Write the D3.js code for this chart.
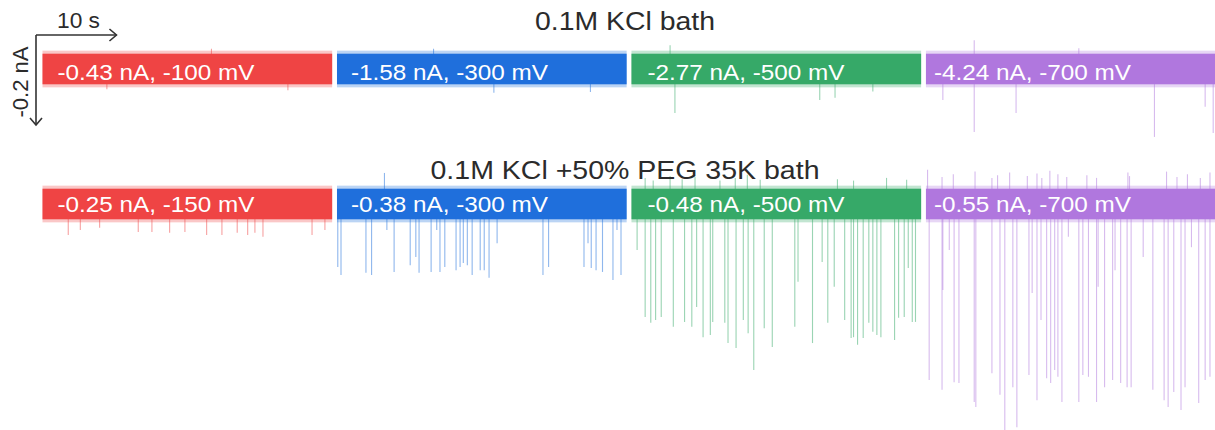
<!DOCTYPE html>
<html>
<head>
<meta charset="utf-8">
<script src="https://cdn.jsdelivr.net/npm/d3@7"></script>
<style>
  html, body { margin: 0; padding: 0; background: #fff; }
  svg { display: block; font-family: "Liberation Sans", Arial, sans-serif; }
</style>
</head>
<body>
<svg id="chart" width="1215" height="430"></svg>
<script>
// ---- data (time in s inside each trace, current change in nA) ----
var segTime = 36;      // length of each trace
var segGap = 0.6;      // gap between traces

var rowTitles = ['0.1M KCl bath', '0.1M KCl +50% PEG 35K bath'];

var topLabels = ['-0.43 nA, -100 mV', '-1.58 nA, -300 mV', '-2.77 nA, -500 mV', '-4.24 nA, -700 mV'];
var bottomLabels = ['-0.25 nA, -150 mV', '-0.38 nA, -300 mV', '-0.48 nA, -500 mV', '-0.55 nA, -700 mV'];

var traceColors = ['#ef4444', '#1f6fdc', '#36a968', '#b077de'];

// noise half width of each trace
var topNoise = [0.034, 0.034, 0.034, 0.034];
var bottomNoise = [0.034, 0.034, 0.034, 0.034];

// events [t, dI]
var topEvents = [
  [[8.0, -0.045], [21.0, 0.045], [30.5, -0.047]],
  [[19.5, -0.053], [31.5, -0.051], [12.0, 0.045]],
  [[5.4, -0.098], [4.8, 0.053], [23.4, -0.069], [25.3, -0.064], [30.0, -0.05]],
  [[2.1, -0.069], [6.0, -0.14], [6.0, 0.064], [11.2, -0.098], [28.4, -0.151],
   [34.7, -0.084], [35.7, -0.142], [19.0, 0.046]]
];

var bottomEvents = [
  [[3.2, -0.069], [4.7, -0.058], [7.1, -0.053], [11.9, -0.062], [13.6, -0.062],
   [15.8, -0.064], [17.7, -0.062], [20.4, -0.069], [22.3, -0.069], [24.2, -0.064],
   [25.5, -0.069], [26.4, -0.064], [27.4, -0.073], [33.5, -0.069], [35.1, -0.058]],
  [[0.1, -0.14], [0.5, -0.158], [3.6, -0.153], [4.3, -0.158], [6.2, -0.058],
   [7.1, -0.151], [9.1, -0.136], [9.8, -0.118], [10.2, -0.153], [11.7, -0.151],
   [12.4, -0.058], [12.8, -0.151], [13.4, -0.14], [14.8, -0.147], [15.3, -0.14],
   [15.7, -0.131], [16.2, -0.136], [16.8, -0.158], [17.8, -0.147], [18.3, -0.147],
   [18.9, -0.164], [19.9, -0.087], [25.6, -0.158], [26.3, -0.14], [30.7, -0.14],
   [31.2, -0.087], [31.6, -0.142], [32.2, -0.147], [33.0, -0.151], [34.3, -0.169],
   [34.8, -0.058], [35.3, -0.158], [5.9, 0.069]],
  [[0.7, -0.102], [1.7, -0.251], [2.4, -0.264], [3.0, -0.258], [3.7, -0.251],
   [5.2, -0.273], [6.6, -0.262], [7.5, -0.273], [8.1, -0.229], [8.9, -0.296],
   [9.8, -0.291], [10.1, -0.262], [11.6, -0.264], [12.0, -0.309], [13.0, -0.32],
   [13.9, -0.258], [14.5, -0.287], [15.2, -0.369], [16.5, -0.276], [17.5, -0.318],
   [20.3, -0.273], [20.7, -0.173], [22.5, -0.309], [23.7, -0.129], [24.4, -0.264],
   [25.2, -0.184], [26.5, -0.258], [27.3, -0.298], [27.6, -0.296], [28.1, -0.313],
   [28.8, -0.298], [29.5, -0.264], [30.0, -0.284], [30.5, -0.291], [31.0, -0.296],
   [32.7, -0.302], [33.2, -0.253], [33.9, -0.251], [34.4, -0.142], [34.9, -0.262],
   [35.3, -0.262],
   [1.7, 0.058], [2.7, 0.052], [4.8, 0.062], [6.3, 0.055], [7.9, 0.06], [11.0, 0.052],
   [12.9, 0.058], [14.4, 0.065], [16.0, 0.054], [25.6, 0.055], [27.6, 0.052],
   [31.7, 0.058], [34.2, 0.054]],
  [[0.4, -0.391], [2.0, -0.413], [2.1, -0.191], [2.9, -0.102], [3.5, -0.396],
   [4.1, -0.398], [6.0, -0.44], [6.2, -0.451], [8.2, -0.376], [9.2, -0.424],
   [9.8, -0.502], [10.8, -0.407], [11.3, -0.496], [12.8, -0.38], [13.2, -0.198],
   [13.8, -0.436], [14.3, -0.258], [15.0, -0.387], [15.5, -0.398], [16.0, -0.369],
   [16.4, -0.384], [16.9, -0.44], [17.7, -0.073], [19.0, -0.44], [19.5, -0.38],
   [20.2, -0.384], [21.2, -0.44], [21.4, -0.184], [22.2, -0.407], [23.2, -0.391],
   [23.5, -0.147], [24.2, -0.398], [25.0, -0.407], [25.5, -0.407], [27.0, -0.118],
   [28.2, -0.413], [29.6, -0.436], [30.1, -0.451], [30.8, -0.418], [31.7, -0.458],
   [32.2, -0.407], [33.0, -0.096], [33.9, -0.442], [34.7, -0.391], [35.3, -0.384],
   [0.2, 0.076], [2.0, 0.06], [3.4, 0.066], [6.1, 0.072], [8.2, 0.058], [8.9, 0.064],
   [10.4, 0.07], [12.6, 0.062], [13.8, 0.068], [14.4, 0.058], [15.4, 0.074],
   [16.4, 0.066], [17.5, 0.06], [20.0, 0.064], [21.2, 0.058], [25.1, 0.07],
   [25.3, 0.062], [29.9, 0.072], [31.2, 0.06], [32.5, 0.066], [34.1, 0.058], [35.3, 0.07]]
];

// scale bar
var scaleBarTime = 10;      // s
var scaleBarCurrent = 0.2;  // nA

// ---- layout ----
var svg = d3.select('#chart');
var pxPerSec = 8.046;
var nSeg = topLabels.length;
var totalTime = nSeg * (segTime + segGap);

var x = d3.scaleLinear()
  .domain([0, totalTime])
  .range([42.5, 42.5 + totalTime * pxPerSec]);

var yTop = d3.scaleLinear().domain([-0.2, 0]).range([69 + 90, 69]);
var yBottom = d3.scaleLinear().domain([-0.2, 0]).range([204 + 90, 204]);

var labelOffsets = [15, 14, 16, 8];

function drawRow(_events, _labels, _noise, _y, _labelY) {
  var g = svg.append('g');

  _labels.forEach(function(label, i) {
    var t0 = i * (segTime + segGap);
    var color = traceColors[i];
    var x0 = x(t0), x1 = x(t0 + segTime);

    // events first so the band sits on top
    g.append('g')
      .selectAll('line')
      .data(_events[i])
      .enter()
      .append('line')
      .attr('x1', function(d) { return x(t0 + d[0]); })
      .attr('x2', function(d) { return x(t0 + d[0]); })
      .attr('y1', _y(0))
      .attr('y2', function(d) { return _y(d[1]); })
      .attr('stroke', color)
      .attr('stroke-opacity', 0.5)
      .attr('stroke-width', 1.1);

    // noise fringe
    g.append('rect')
      .attr('x', x0)
      .attr('width', x1 - x0)
      .attr('y', _y(_noise[i] * 1.2))
      .attr('height', _y(-_noise[i] * 1.2) - _y(_noise[i] * 1.2))
      .attr('fill', color)
      .attr('opacity', 0.3);

    g.append('rect')
      .attr('x', x0)
      .attr('width', x1 - x0)
      .attr('y', _y(_noise[i]))
      .attr('height', _y(-_noise[i]) - _y(_noise[i]))
      .attr('fill', color);

    g.append('text')
      .attr('x', x0 + labelOffsets[i])
      .attr('y', _labelY)
      .attr('fill', '#fff')
      .attr('font-size', '22px')
      .attr('textLength', 197)
      .attr('lengthAdjust', 'spacingAndGlyphs')
      .text(label);
  });
}

drawRow(topEvents, topLabels, topNoise, yTop, 80);
drawRow(bottomEvents, bottomLabels, bottomNoise, yBottom, 212);

// row titles
svg.append('text')
  .attr('x', 625).attr('y', 30)
  .attr('text-anchor', 'middle')
  .attr('font-size', '25px')
  .attr('fill', '#2b2b2b')
  .attr('textLength', 180)
  .attr('lengthAdjust', 'spacingAndGlyphs')
  .text(rowTitles[0]);

svg.append('text')
  .attr('x', 625).attr('y', 179)
  .attr('text-anchor', 'middle')
  .attr('font-size', '25px')
  .attr('fill', '#2b2b2b')
  .attr('textLength', 389)
  .attr('lengthAdjust', 'spacingAndGlyphs')
  .text(rowTitles[1]);

// scale bar arrows
var sbX = 36, sbY = 35;
var sbW = x(scaleBarTime) - x(0);
var sbH = yTop(-scaleBarCurrent) - yTop(0);
var sb = svg.append('g')
  .attr('stroke', '#333')
  .attr('stroke-width', 1.6)
  .attr('fill', 'none');

sb.append('path').attr('d', 'M' + sbX + ',' + sbY + 'H' + (sbX + sbW));
sb.append('path').attr('d', 'M' + (sbX + sbW - 7) + ',' + (sbY - 6) + 'L' + (sbX + sbW) + ',' + sbY +
  'L' + (sbX + sbW - 7) + ',' + (sbY + 6));
sb.append('path').attr('d', 'M' + sbX + ',' + sbY + 'V' + (sbY + sbH));
sb.append('path').attr('d', 'M' + (sbX - 6) + ',' + (sbY + sbH - 7) + 'L' + sbX + ',' + (sbY + sbH) +
  'L' + (sbX + 6) + ',' + (sbY + sbH - 7));

svg.append('text')
  .attr('x', 57).attr('y', 28)
  .attr('font-size', '22px')
  .attr('fill', '#2b2b2b')
  .attr('textLength', 43)
  .attr('lengthAdjust', 'spacingAndGlyphs')
  .text(scaleBarTime + ' s');

svg.append('text')
  .attr('transform', 'translate(28,82) rotate(-90)')
  .attr('text-anchor', 'middle')
  .attr('font-size', '22px')
  .attr('fill', '#2b2b2b')
  .attr('textLength', 71)
  .attr('lengthAdjust', 'spacingAndGlyphs')
  .text('-' + scaleBarCurrent + ' nA');
</script>
</body>
</html>
